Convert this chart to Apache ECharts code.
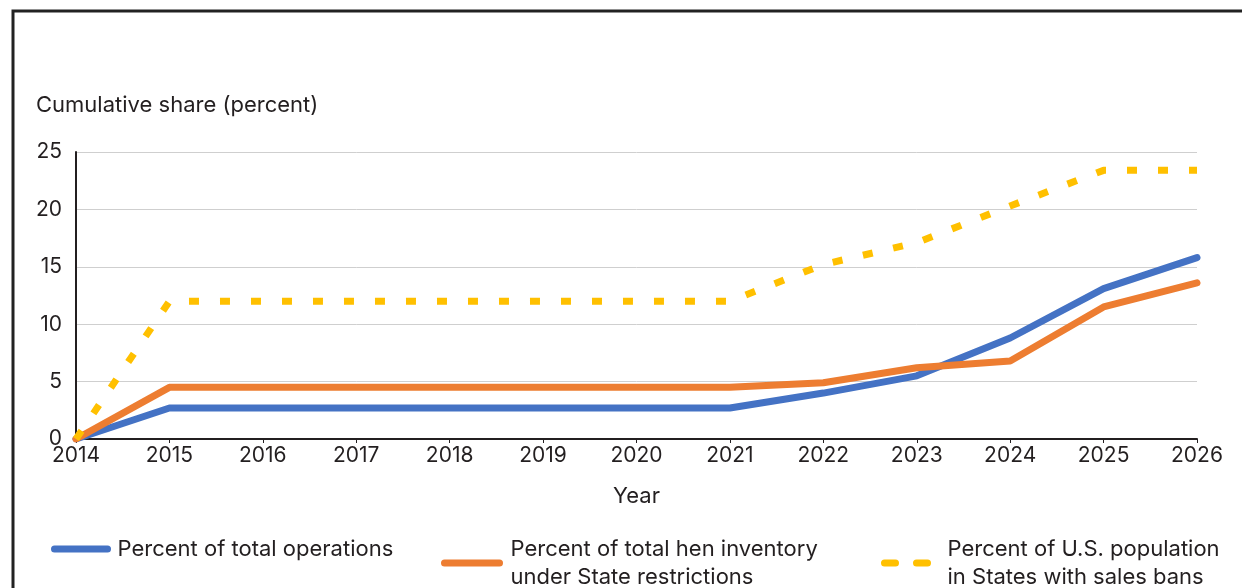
<!DOCTYPE html>
<html>
<head>
<meta charset="utf-8">
<script src="https://cdn.jsdelivr.net/npm/echarts@6/dist/echarts.min.js"></script>
<style>
    html, body { margin: 0; padding: 0; background: #fff; }
    #chart { width: 1242px; height: 588px; }
</style>
</head>
<body>
<div id="chart"></div>
<script>
var years = ['2014', '2015', '2016', '2017', '2018', '2019', '2020', '2021', '2022', '2023', '2024', '2025', '2026'];
var operations = [0, 2.7, 2.7, 2.7, 2.7, 2.7, 2.7, 2.7, 4.0, 5.5, 8.8, 13.1, 15.8];
var henInventory = [0, 4.5, 4.5, 4.5, 4.5, 4.5, 4.5, 4.5, 4.9, 6.2, 6.8, 11.5, 13.6];
var populationBans = [0, 12, 12, 12, 12, 12, 12, 12, 15.2, 17.1, 20.3, 23.4, 23.4];

var names = [
    'Percent of total operations',
    'Percent of total hen inventory\nunder State restrictions',
    'Percent of U.S. population\nin States with sales bans'
];

var font = 'Inter, "Noto Sans", sans-serif';
var textColor = '#231f20';

var myChart = echarts.init(document.getElementById('chart'));

// one legend per item so each can sit where the original has it
function legendFor(name, left, width, padLeft, lineStyle) {
    return {
        data: [name],
        left: left,
        top: 521,
        padding: 0,
        itemWidth: width,
        itemHeight: 14,
        itemStyle: { opacity: 0 },
        lineStyle: lineStyle,
        textStyle: {
            fontFamily: font,
            fontSize: 22,
            color: textColor,
            lineHeight: 28,
            padding: [28, 0, 0, padLeft]
        }
    };
}

var option = {
    backgroundColor: '#fff',
    animation: false,
    title: {
        text: 'Cumulative share (percent)',
        left: 31,
        top: 89,
        textStyle: {
            fontFamily: font,
            fontSize: 22,
            fontWeight: 'normal',
            color: textColor
        }
    },
    graphic: [{
        type: 'polyline',
        shape: { points: [[13, 600], [13, 11], [1260, 11]] },
        style: { stroke: '#222', lineWidth: 3, fill: null }
    }],
    legend: [
        legendFor(names[0], 51, 53, 5, { width: 7, cap: 'round' }),
        legendFor(names[1], 441, 55, 6, { width: 7, cap: 'round' }),
        legendFor(names[2], 881, 45, 13, { width: 7, cap: 'round', type: [11, 21] })
    ],
    grid: {
        left: 76,
        right: 45,
        top: 152,
        bottom: 149,
        containLabel: false
    },
    xAxis: {
        type: 'category',
        data: years,
        boundaryGap: false,
        name: 'Year',
        nameLocation: 'middle',
        nameGap: 46,
        nameTextStyle: { fontFamily: font, fontSize: 22, color: textColor },
        axisLine: { lineStyle: { color: '#231f20', width: 2 } },
        axisTick: { show: true, length: 4, lineStyle: { color: '#231f20', width: 1 } },
        axisLabel: { fontFamily: font, fontSize: 21, color: textColor, margin: 6 }
    },
    yAxis: {
        type: 'value',
        min: 0,
        max: 25,
        interval: 5,
        axisLine: { show: true, lineStyle: { color: '#231f20', width: 2 } },
        axisTick: { show: false },
        axisLabel: { fontFamily: font, fontSize: 21, color: textColor, margin: 14 },
        splitLine: { lineStyle: { color: '#cfcfcf', width: 1 } }
    },
    series: [
        {
            name: names[0],
            type: 'line',
            data: operations,
            symbol: 'none',
            color: '#4472c4',
            lineStyle: { width: 7, cap: 'round', join: 'round' }
        },
        {
            name: names[1],
            type: 'line',
            data: henInventory,
            symbol: 'none',
            color: '#ed7d31',
            lineStyle: { width: 7, cap: 'round', join: 'round' }
        },
        {
            name: names[2],
            type: 'line',
            data: populationBans,
            symbol: 'none',
            color: '#ffc000',
            lineStyle: { width: 7, type: [10, 21], cap: 'butt' }
        }
    ]
};

myChart.setOption(option);
window.addEventListener('resize', function () {
    myChart.resize();
});
</script>
</body>
</html>
